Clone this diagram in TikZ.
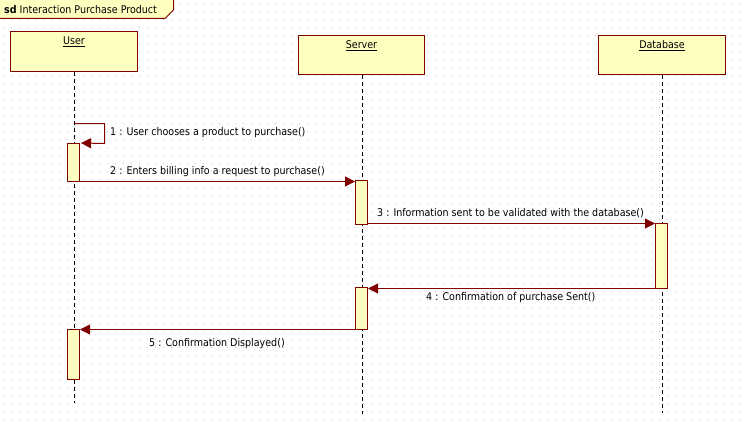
\documentclass[tikz,border=0pt]{standalone}
\usepackage{fontspec}
\setmainfont{DejaVu Sans Condensed}
\usetikzlibrary{arrows.meta}
\definecolor{boxfill}{RGB}{255,255,192}
\definecolor{dred}{RGB}{128,0,0}
\definecolor{griddot}{RGB}{200,200,200}
\tikzset{
  lifebox/.style={draw=dred, fill=boxfill, line width=1pt, minimum width=127pt, minimum height=40pt, inner sep=0pt, anchor=center},
  actbar/.style={draw=dred, fill=boxfill, line width=1pt, minimum width=12pt, inner sep=0pt, anchor=center},
  hdr/.style={font=\fontsize{10.6}{12}\selectfont, inner sep=0pt, anchor=center},
  lbl/.style={font=\fontsize{10.6}{12}\selectfont, inner sep=0pt, anchor=west},
  lifeline/.style={draw=black, line width=1pt, dash pattern=on 4pt off 3pt},
  msg/.style={draw=dred, line width=1pt, -{Triangle[length=10pt,width=10pt]}, fill=none},
}
\begin{document}
\begin{tikzpicture}[x=1pt,y=-1pt]
\useasboundingbox (0,0) rectangle (744,428);
\fill[white] (0,0) rectangle (744,428);
% dotted background grid
\foreach \yy in {3.5,11.5,...,427}
  \draw[griddot, line width=1pt, dash pattern=on 1pt off 7pt] (3,\yy) -- (744,\yy);
% frame label
\draw[dred, fill=boxfill, line width=1pt] (-1,-1) -- (173.5,-1) -- (173.5,10) -- (165,18.5) -- (-1,18.5) -- cycle;
\node[lbl] (sd) at (4,9.5) {\textbf{sd} Interaction Purchase Product};
% lifeline heads
\node[lifebox] (ub) at (74,51.5) {};
\node[lifebox, minimum width=126pt, minimum height=39pt] (sb) at (361.5,55) {};
\node[lifebox, minimum height=39pt] (db) at (662,55) {};
\node[hdr] (ut) at ([yshift=-11pt]ub.north) {\underline{User}};
\node[hdr] (st) at ([yshift=-11pt]sb.north) {\underline{Server}};
\node[hdr] (dt) at ([yshift=-11pt]db.north) {\underline{Database}};
% lifeline ends
\coordinate (ue) at (74.5,403);
\coordinate (se) at (362.5,414);
\coordinate (de) at (662.5,413);
\draw[lifeline] (ub.south -| ue) -- (ue);
\draw[lifeline] (sb.south -| se) -- (se);
\draw[lifeline] (db.south -| de) -- (de);
% activation bars
\node[actbar, minimum height=38pt] (U1) at (73.5,162.5) {};
\node[actbar, minimum height=44pt] (S1) at (361.5,202.5) {};
\node[actbar, minimum height=65pt] (D1) at (661.5,256) {};
\node[actbar, minimum height=42pt] (S2) at (361.5,308.5) {};
\node[actbar, minimum height=50pt] (U2) at (73.5,354.5) {};
% messages
\coordinate (m1a) at (74.5,123.5);
\coordinate (m1b) at (104.5,123.5);
\coordinate (m1c) at (104.5,143.5);
\draw[msg] (m1a) -- (m1b) -- (m1c) -- ([xshift=1pt]U1.north east);
\node[lbl] (l1) at (110,133) {1 : User chooses a product to purchase()};
\draw[msg] (U1.east |- 0,181.5) -- (S1.west |- 0,181.5);
\node[lbl] (l2) at (110,171.5) {2 : Enters billing info a request to purchase()};
\draw[msg] (S1.east |- 0,223.5) -- (D1.west |- 0,223.5);
\node[lbl] (l3) at (377,213.5) {3 : Information sent to be validated with the database()};
\draw[msg] (D1.west |- 0,288.5) -- (S2.east |- 0,288.5);
\node[lbl] (l4) at (426,297.5) {4 : Confirmation of purchase Sent()};
\draw[msg] (S2.west |- 0,329.5) -- (U2.east |- 0,329.5);
\node[lbl] (l5) at (149,343.5) {5 : Confirmation Displayed()};
\end{tikzpicture}
\end{document}
